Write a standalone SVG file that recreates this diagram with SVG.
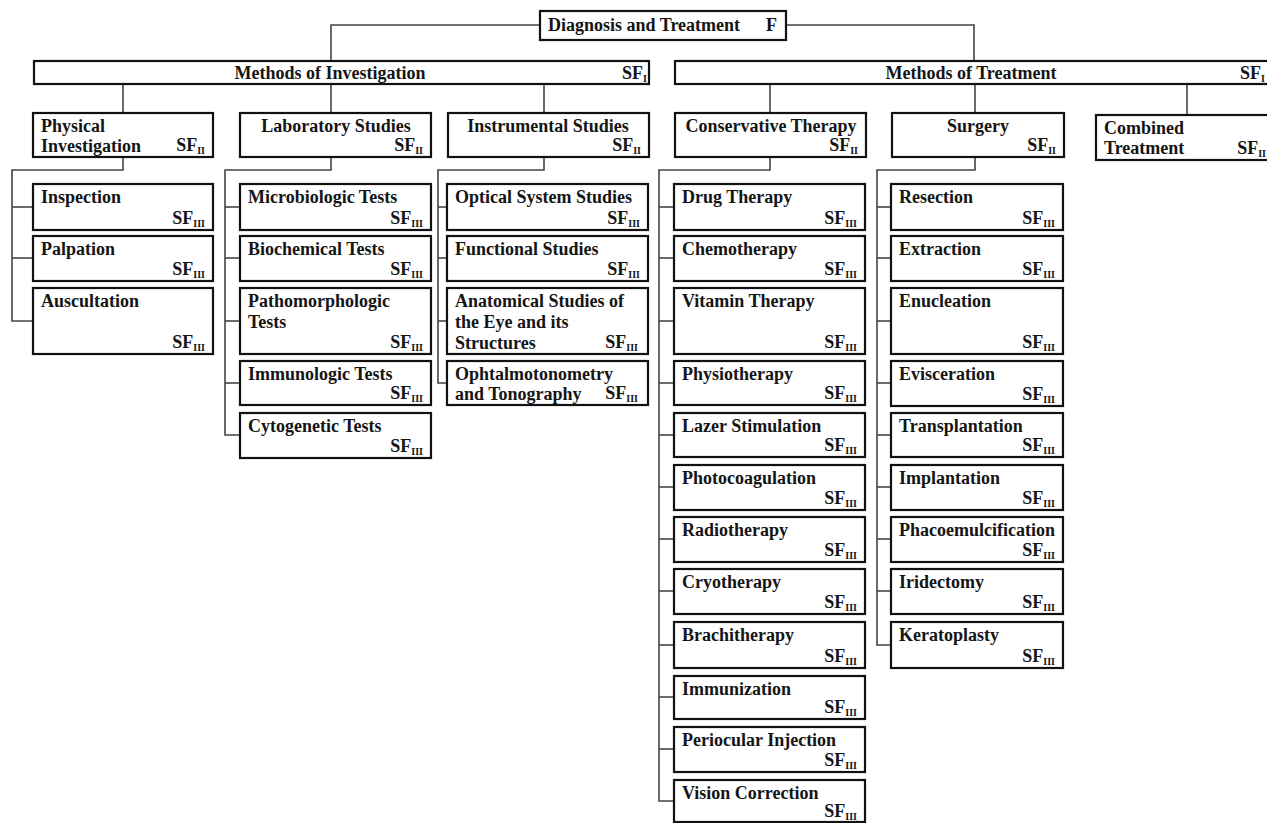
<svg xmlns="http://www.w3.org/2000/svg" width="1267" height="823" viewBox="0 0 1267 823">
<style>
.bx{fill:#fff;stroke:#111;stroke-width:2.2}
.cn{fill:none;stroke:#444;stroke-width:1.6}
text{font-family:"Liberation Serif","Times New Roman",serif;font-weight:bold;font-size:18px;fill:#151515}
.sub{font-size:10px}
.e{text-anchor:end}
.m{text-anchor:middle}
</style>
<rect width="1267" height="823" fill="#fff"/>
<g id="connectors">
<polyline class="cn" points="540,25 331,25 331,61"/>
<polyline class="cn" points="786,25 974,25 974,61"/>
<line class="cn" x1="123" y1="84" x2="123" y2="113"/>
<line class="cn" x1="331" y1="84" x2="331" y2="113"/>
<line class="cn" x1="544" y1="84" x2="544" y2="113"/>
<line class="cn" x1="770" y1="84" x2="770" y2="113"/>
<line class="cn" x1="975" y1="84" x2="975" y2="113"/>
<line class="cn" x1="1187" y1="84" x2="1187" y2="115"/>
<polyline class="cn" points="123,157 123,170 12,170 12,321 33,321"/>
<line class="cn" x1="12" y1="207" x2="33" y2="207"/>
<line class="cn" x1="12" y1="258" x2="33" y2="258"/>
<polyline class="cn" points="331,157 331,170 225,170 225,435 240,435"/>
<line class="cn" x1="225" y1="207" x2="240" y2="207"/>
<line class="cn" x1="225" y1="258" x2="240" y2="258"/>
<line class="cn" x1="225" y1="321" x2="240" y2="321"/>
<line class="cn" x1="225" y1="383" x2="240" y2="383"/>
<polyline class="cn" points="544,157 544,170 438,170 438,383 447,383"/>
<line class="cn" x1="438" y1="207" x2="447" y2="207"/>
<line class="cn" x1="438" y1="258" x2="447" y2="258"/>
<line class="cn" x1="438" y1="321" x2="447" y2="321"/>
<polyline class="cn" points="770,157 770,170 659,170 659,801 674,801"/>
<line class="cn" x1="659" y1="207" x2="674" y2="207"/>
<line class="cn" x1="659" y1="258" x2="674" y2="258"/>
<line class="cn" x1="659" y1="321" x2="674" y2="321"/>
<line class="cn" x1="659" y1="383" x2="674" y2="383"/>
<line class="cn" x1="659" y1="435" x2="674" y2="435"/>
<line class="cn" x1="659" y1="487" x2="674" y2="487"/>
<line class="cn" x1="659" y1="539" x2="674" y2="539"/>
<line class="cn" x1="659" y1="591" x2="674" y2="591"/>
<line class="cn" x1="659" y1="645" x2="674" y2="645"/>
<line class="cn" x1="659" y1="697" x2="674" y2="697"/>
<line class="cn" x1="659" y1="749" x2="674" y2="749"/>
<polyline class="cn" points="975,157 975,170 877,170 877,645 891,645"/>
<line class="cn" x1="877" y1="207" x2="891" y2="207"/>
<line class="cn" x1="877" y1="258" x2="891" y2="258"/>
<line class="cn" x1="877" y1="321" x2="891" y2="321"/>
<line class="cn" x1="877" y1="383" x2="891" y2="383"/>
<line class="cn" x1="877" y1="435" x2="891" y2="435"/>
<line class="cn" x1="877" y1="487" x2="891" y2="487"/>
<line class="cn" x1="877" y1="539" x2="891" y2="539"/>
<line class="cn" x1="877" y1="591" x2="891" y2="591"/>
</g>
<g id="n-root"><rect class="bx" x="540" y="11" width="246" height="29"/><text x="548" y="31">Diagnosis and Treatment</text><text class="e" x="777" y="31">F</text></g>
<g id="n-moi"><rect class="bx" x="34" y="61" width="615" height="23"/><text class="m" x="330" y="79">Methods of Investigation</text><text class="e" x="647" y="79">SF<tspan class="sub" dy="3">I</tspan></text></g>
<g id="n-mot"><rect class="bx" x="675" y="61" width="600" height="23"/><text class="m" x="971" y="79">Methods of Treatment</text><text class="e" x="1265" y="79">SF<tspan class="sub" dy="3">I</tspan></text></g>

<g id="n-phys"><rect class="bx" x="33" y="113" width="180" height="44"/><text x="41" y="132">Physical</text><text x="41" y="152">Investigation</text><text class="e" x="205" y="151">SF<tspan class="sub" dy="3">II</tspan></text></g>
<g id="n-lab"><rect class="bx" x="240" y="113" width="191" height="44"/><text class="m" x="336" y="132">Laboratory Studies</text><text class="e" x="423" y="151">SF<tspan class="sub" dy="3">II</tspan></text></g>
<g id="n-instr"><rect class="bx" x="448" y="113" width="201" height="44"/><text class="m" x="548" y="132">Instrumental Studies</text><text class="e" x="641" y="151">SF<tspan class="sub" dy="3">II</tspan></text></g>
<g id="n-cons"><rect class="bx" x="675" y="113" width="191" height="44"/><text class="m" x="771" y="132">Conservative Therapy</text><text class="e" x="858" y="151">SF<tspan class="sub" dy="3">II</tspan></text></g>
<g id="n-surg"><rect class="bx" x="892" y="113" width="172" height="44"/><text class="m" x="978" y="132">Surgery</text><text class="e" x="1056" y="151">SF<tspan class="sub" dy="3">II</tspan></text></g>
<g id="n-comb"><rect class="bx" x="1096" y="115" width="180" height="45"/><text x="1104" y="134">Combined</text><text x="1104" y="154">Treatment</text><text class="e" x="1266" y="154">SF<tspan class="sub" dy="3">II</tspan></text></g>

<g id="n-inspection"><rect class="bx" x="33" y="184" width="180" height="46"/><text x="41" y="203">Inspection</text><text class="e" x="205" y="224">SF<tspan class="sub" dy="3">III</tspan></text></g>
<g id="n-palpation"><rect class="bx" x="33" y="236" width="180" height="45"/><text x="41" y="255">Palpation</text><text class="e" x="205" y="275">SF<tspan class="sub" dy="3">III</tspan></text></g>
<g id="n-auscultation"><rect class="bx" x="33" y="288" width="180" height="66"/><text x="41" y="307">Auscultation</text><text class="e" x="205" y="348">SF<tspan class="sub" dy="3">III</tspan></text></g>

<g id="n-micro"><rect class="bx" x="240" y="184" width="191" height="46"/><text x="248" y="203">Microbiologic Tests</text><text class="e" x="423" y="224">SF<tspan class="sub" dy="3">III</tspan></text></g>
<g id="n-biochem"><rect class="bx" x="240" y="236" width="191" height="45"/><text x="248" y="255">Biochemical Tests</text><text class="e" x="423" y="275">SF<tspan class="sub" dy="3">III</tspan></text></g>
<g id="n-patho"><rect class="bx" x="240" y="288" width="191" height="66"/><text x="248" y="307">Pathomorphologic</text><text x="248" y="328">Tests</text><text class="e" x="423" y="348">SF<tspan class="sub" dy="3">III</tspan></text></g>
<g id="n-immuno"><rect class="bx" x="240" y="361" width="191" height="44"/><text x="248" y="380">Immunologic Tests</text><text class="e" x="423" y="399">SF<tspan class="sub" dy="3">III</tspan></text></g>
<g id="n-cyto"><rect class="bx" x="240" y="413" width="191" height="45"/><text x="248" y="432">Cytogenetic Tests</text><text class="e" x="423" y="452">SF<tspan class="sub" dy="3">III</tspan></text></g>

<g id="n-optical"><rect class="bx" x="447" y="184" width="201" height="46"/><text x="455" y="203">Optical System Studies</text><text class="e" x="640" y="224">SF<tspan class="sub" dy="3">III</tspan></text></g>
<g id="n-functional"><rect class="bx" x="447" y="236" width="201" height="45"/><text x="455" y="255">Functional Studies</text><text class="e" x="640" y="275">SF<tspan class="sub" dy="3">III</tspan></text></g>
<g id="n-anatomical"><rect class="bx" x="447" y="288" width="201" height="66"/><text x="455" y="307">Anatomical Studies of</text><text x="455" y="328">the Eye and its</text><text x="455" y="349">Structures</text><text class="e" x="638" y="348">SF<tspan class="sub" dy="3">III</tspan></text></g>
<g id="n-ophtalmo"><rect class="bx" x="447" y="361" width="201" height="44"/><text x="455" y="380">Ophtalmotonometry</text><text x="455" y="400">and Tonography</text><text class="e" x="638" y="399">SF<tspan class="sub" dy="3">III</tspan></text></g>

<g id="n-drug"><rect class="bx" x="674" y="184" width="191" height="46"/><text x="682" y="203">Drug Therapy</text><text class="e" x="857" y="224">SF<tspan class="sub" dy="3">III</tspan></text></g>
<g id="n-chemo"><rect class="bx" x="674" y="236" width="191" height="45"/><text x="682" y="255">Chemotherapy</text><text class="e" x="857" y="275">SF<tspan class="sub" dy="3">III</tspan></text></g>
<g id="n-vitamin"><rect class="bx" x="674" y="288" width="191" height="66"/><text x="682" y="307">Vitamin Therapy</text><text class="e" x="857" y="348">SF<tspan class="sub" dy="3">III</tspan></text></g>
<g id="n-physio"><rect class="bx" x="674" y="361" width="191" height="44"/><text x="682" y="380">Physiotherapy</text><text class="e" x="857" y="399">SF<tspan class="sub" dy="3">III</tspan></text></g>
<g id="n-lazer"><rect class="bx" x="674" y="413" width="191" height="44"/><text x="682" y="432">Lazer Stimulation</text><text class="e" x="857" y="451">SF<tspan class="sub" dy="3">III</tspan></text></g>
<g id="n-photo"><rect class="bx" x="674" y="465" width="191" height="45"/><text x="682" y="484">Photocoagulation</text><text class="e" x="857" y="504">SF<tspan class="sub" dy="3">III</tspan></text></g>
<g id="n-radio"><rect class="bx" x="674" y="517" width="191" height="45"/><text x="682" y="536">Radiotherapy</text><text class="e" x="857" y="556">SF<tspan class="sub" dy="3">III</tspan></text></g>
<g id="n-cryo"><rect class="bx" x="674" y="569" width="191" height="45"/><text x="682" y="588">Cryotherapy</text><text class="e" x="857" y="608">SF<tspan class="sub" dy="3">III</tspan></text></g>
<g id="n-brachi"><rect class="bx" x="674" y="622" width="191" height="46"/><text x="682" y="641">Brachitherapy</text><text class="e" x="857" y="662">SF<tspan class="sub" dy="3">III</tspan></text></g>
<g id="n-immunization"><rect class="bx" x="674" y="676" width="191" height="43"/><text x="682" y="695">Immunization</text><text class="e" x="857" y="713">SF<tspan class="sub" dy="3">III</tspan></text></g>
<g id="n-periocular"><rect class="bx" x="674" y="727" width="191" height="45"/><text x="682" y="746">Periocular Injection</text><text class="e" x="857" y="766">SF<tspan class="sub" dy="3">III</tspan></text></g>
<g id="n-vision"><rect class="bx" x="674" y="780" width="191" height="42"/><text x="682" y="799">Vision Correction</text><text class="e" x="857" y="817">SF<tspan class="sub" dy="3">III</tspan></text></g>

<g id="n-resection"><rect class="bx" x="891" y="184" width="172" height="46"/><text x="899" y="203">Resection</text><text class="e" x="1055" y="224">SF<tspan class="sub" dy="3">III</tspan></text></g>
<g id="n-extraction"><rect class="bx" x="891" y="236" width="172" height="45"/><text x="899" y="255">Extraction</text><text class="e" x="1055" y="275">SF<tspan class="sub" dy="3">III</tspan></text></g>
<g id="n-enucleation"><rect class="bx" x="891" y="288" width="172" height="66"/><text x="899" y="307">Enucleation</text><text class="e" x="1055" y="348">SF<tspan class="sub" dy="3">III</tspan></text></g>
<g id="n-evisceration"><rect class="bx" x="891" y="361" width="172" height="45"/><text x="899" y="380">Evisceration</text><text class="e" x="1055" y="400">SF<tspan class="sub" dy="3">III</tspan></text></g>
<g id="n-transplant"><rect class="bx" x="891" y="413" width="172" height="44"/><text x="899" y="432">Transplantation</text><text class="e" x="1055" y="451">SF<tspan class="sub" dy="3">III</tspan></text></g>
<g id="n-implant"><rect class="bx" x="891" y="465" width="172" height="45"/><text x="899" y="484">Implantation</text><text class="e" x="1055" y="504">SF<tspan class="sub" dy="3">III</tspan></text></g>
<g id="n-phaco"><rect class="bx" x="891" y="517" width="172" height="45"/><text x="899" y="536">Phacoemulcification</text><text class="e" x="1055" y="556">SF<tspan class="sub" dy="3">III</tspan></text></g>
<g id="n-iridectomy"><rect class="bx" x="891" y="569" width="172" height="45"/><text x="899" y="588">Iridectomy</text><text class="e" x="1055" y="608">SF<tspan class="sub" dy="3">III</tspan></text></g>
<g id="n-kerato"><rect class="bx" x="891" y="622" width="172" height="46"/><text x="899" y="641">Keratoplasty</text><text class="e" x="1055" y="662">SF<tspan class="sub" dy="3">III</tspan></text></g>
</svg>
